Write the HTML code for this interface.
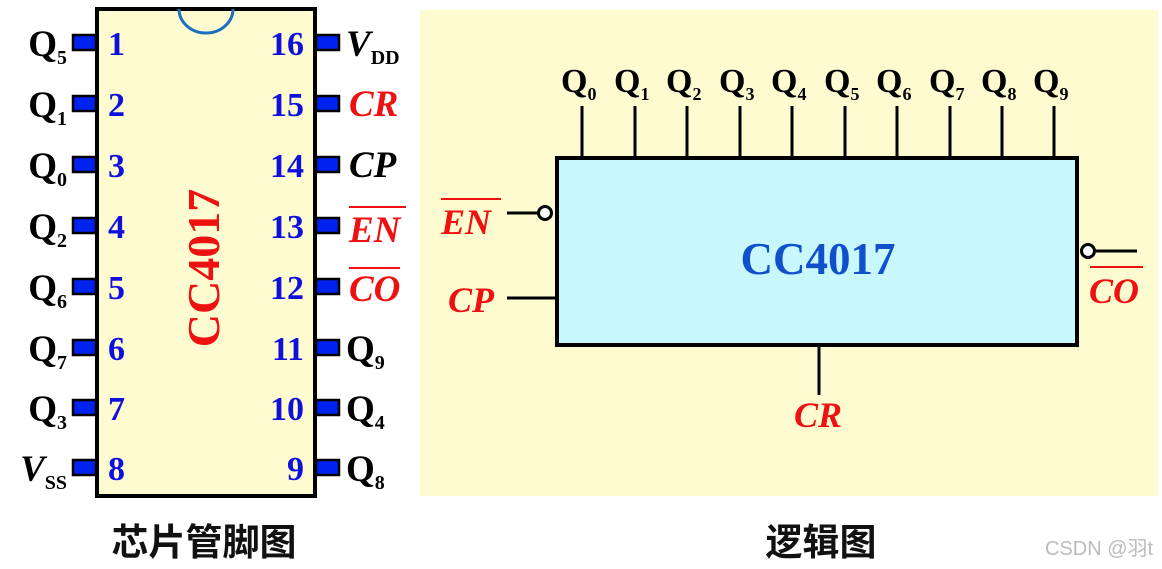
<!DOCTYPE html>
<html><head><meta charset="utf-8"><style>
html,body{margin:0;padding:0;background:#fff;}
svg{display:block;}
text{font-family:"Liberation Serif",serif;font-weight:bold;}
.cjk{font-family:"Liberation Sans","Noto Sans CJK SC",sans-serif;font-weight:bold;}
</style></head><body>
<svg width="1162" height="569" viewBox="0 0 1162 569" xmlns="http://www.w3.org/2000/svg">
<rect x="420" y="10" width="738" height="486" fill="#fefbd0"/>
<rect x="97" y="9" width="218" height="487" fill="#fffbd0" stroke="#000" stroke-width="4"/>
<path d="M179 9 A27 24 0 0 0 233 9" fill="none" stroke="#1a6fc0" stroke-width="3"/>
<g fill="#0022ee" stroke="#000" stroke-width="2.5">
<rect x="73" y="35" width="23" height="15"/><rect x="73" y="96" width="23" height="15"/>
<rect x="73" y="157" width="23" height="15"/><rect x="73" y="218" width="23" height="15"/>
<rect x="73" y="279" width="23" height="15"/><rect x="73" y="340" width="23" height="15"/>
<rect x="73" y="400" width="23" height="15"/><rect x="73" y="460" width="23" height="15"/>
<rect x="316" y="35" width="23" height="15"/><rect x="316" y="96" width="23" height="15"/>
<rect x="316" y="157" width="23" height="15"/><rect x="316" y="218" width="23" height="15"/>
<rect x="316" y="279" width="23" height="15"/><rect x="316" y="340" width="23" height="15"/>
<rect x="316" y="400" width="23" height="15"/><rect x="316" y="460" width="23" height="15"/>
</g>
<g fill="#1010dd" font-size="34">
<text x="108" y="55">1</text><text x="108" y="116">2</text><text x="108" y="177">3</text><text x="108" y="238">4</text>
<text x="108" y="299">5</text><text x="108" y="360">6</text><text x="108" y="420">7</text><text x="108" y="480">8</text>
<g text-anchor="end"><text x="304" y="55">16</text><text x="304" y="116">15</text><text x="304" y="177">14</text><text x="304" y="238">13</text>
<text x="304" y="299">12</text><text x="304" y="360">11</text><text x="304" y="420">10</text><text x="304" y="480">9</text></g>
</g>
<text transform="translate(219,268) rotate(-90)" text-anchor="middle" fill="#ee1111" font-size="46">CC4017</text>
<g fill="#000" font-size="37" text-anchor="end">
<text x="67" y="56">Q<tspan font-size="20" dy="8">5</tspan></text>
<text x="67" y="117">Q<tspan font-size="20" dy="8">1</tspan></text>
<text x="67" y="178">Q<tspan font-size="20" dy="8">0</tspan></text>
<text x="67" y="239">Q<tspan font-size="20" dy="8">2</tspan></text>
<text x="67" y="300">Q<tspan font-size="20" dy="8">6</tspan></text>
<text x="67" y="361">Q<tspan font-size="20" dy="8">7</tspan></text>
<text x="67" y="421">Q<tspan font-size="20" dy="8">3</tspan></text>
<text x="67" y="481"><tspan font-style="italic">V</tspan><tspan font-size="20" dy="8">SS</tspan></text>
</g>
<g fill="#000" font-size="37">
<text x="346" y="56"><tspan font-style="italic">V</tspan><tspan font-size="20" dy="8">DD</tspan></text>
<text x="349" y="116" fill="#ee1111" font-style="italic">CR</text>
<text x="349" y="177" font-style="italic">CP</text>
<text x="349" y="242" fill="#ee1111" font-style="italic">EN</text>
<text x="349" y="301" fill="#ee1111" font-style="italic">CO</text>
<text x="346" y="361">Q<tspan font-size="20" dy="8">9</tspan></text>
<text x="346" y="421">Q<tspan font-size="20" dy="8">4</tspan></text>
<text x="346" y="481">Q<tspan font-size="20" dy="8">8</tspan></text>
</g>
<g stroke="#ee1111" stroke-width="2"><line x1="349" y1="207" x2="406" y2="207"/><line x1="349" y1="268" x2="400" y2="268"/></g>
<rect x="557" y="158" width="520" height="187" fill="#c8f8fc" stroke="#000" stroke-width="4"/>
<g stroke="#000" stroke-width="3">
<line x1="582" y1="106" x2="582" y2="158"/><line x1="635" y1="106" x2="635" y2="158"/>
<line x1="687" y1="106" x2="687" y2="158"/><line x1="740" y1="106" x2="740" y2="158"/>
<line x1="792" y1="106" x2="792" y2="158"/><line x1="845" y1="106" x2="845" y2="158"/>
<line x1="897" y1="106" x2="897" y2="158"/><line x1="950" y1="106" x2="950" y2="158"/>
<line x1="1002" y1="106" x2="1002" y2="158"/><line x1="1054" y1="106" x2="1054" y2="158"/>
<line x1="507" y1="213" x2="538" y2="213"/><line x1="507" y1="298" x2="557" y2="298"/>
<line x1="1096" y1="251" x2="1137" y2="251"/><line x1="819" y1="345" x2="819" y2="395"/>
</g>
<circle cx="545" cy="213" r="6.5" fill="#fff" stroke="#000" stroke-width="3"/>
<circle cx="1088" cy="251" r="6.5" fill="#fff" stroke="#000" stroke-width="3"/>
<g fill="#000" font-size="34">
<text x="561" y="92">Q<tspan font-size="18" dy="8">0</tspan></text>
<text x="614" y="92">Q<tspan font-size="18" dy="8">1</tspan></text>
<text x="666" y="92">Q<tspan font-size="18" dy="8">2</tspan></text>
<text x="719" y="92">Q<tspan font-size="18" dy="8">3</tspan></text>
<text x="771" y="92">Q<tspan font-size="18" dy="8">4</tspan></text>
<text x="824" y="92">Q<tspan font-size="18" dy="8">5</tspan></text>
<text x="876" y="92">Q<tspan font-size="18" dy="8">6</tspan></text>
<text x="929" y="92">Q<tspan font-size="18" dy="8">7</tspan></text>
<text x="981" y="92">Q<tspan font-size="18" dy="8">8</tspan></text>
<text x="1033" y="92">Q<tspan font-size="18" dy="8">9</tspan></text>
</g>
<text x="818" y="274" text-anchor="middle" fill="#1050cc" font-size="45">CC4017</text>
<g fill="#ee1111" font-size="36" font-style="italic">
<text x="441" y="234">EN</text>
<text x="448" y="312">CP</text>
<text x="1089" y="303">CO</text>
<text x="818" y="427" text-anchor="middle">CR</text>
</g>
<g stroke="#ee1111" stroke-width="2"><line x1="441" y1="199" x2="501" y2="199"/><line x1="1090" y1="267" x2="1143" y2="267"/></g>
<text class="cjk" x="204" y="555" text-anchor="middle" font-size="37" fill="#111">芯片管脚图</text>
<text class="cjk" x="821" y="555" text-anchor="middle" font-size="37" fill="#111">逻辑图</text>
<text x="1045" y="555" font-size="20" fill="#bbbbbb" style="font-family:'Liberation Sans','Noto Sans CJK SC',sans-serif;font-weight:normal">CSDN @羽t</text>
</svg>
</body></html>
